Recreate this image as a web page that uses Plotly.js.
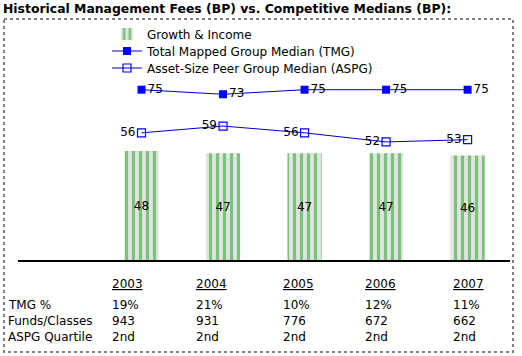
<!DOCTYPE html>
<html>
<head>
<meta charset="utf-8">
<script src="https://cdn.plot.ly/plotly-3.0.1.min.js"></script>
<style>html,body{margin:0;padding:0;background:#fff;}#chart{width:522px;height:356px;}</style>
</head>
<body>
<div id="chart"></div>
<script>
var years = ['2003', '2004', '2005', '2006', '2007'];
var fundFees = [48, 47, 47, 47, 46];
var tmgMedian = [75, 73, 75, 75, 75];
var aspgMedian = [56, 59, 56, 52, 53];
var tmgPct = ['19%', '21%', '10%', '12%', '11%'];
var fundsClasses = ['943', '931', '776', '672', '662'];
var aspgQuartile = ['2nd', '2nd', '2nd', '2nd', '2nd'];
var rowLabels = ['TMG %', 'Funds/Classes', 'ASPG Quartile'];
var seriesNames = ['Growth & Income', 'Total Mapped Group Median (TMG)', 'Asset-Size Peer Group Median (ASPG)'];
var chartTitle = 'Historical Management Fees (BP) vs. Competitive Medians (BP):';

var W = 522, H = 356;
var PL = 18, PR = 510, PT = 20, PB = 260;
function px(x) { return (x - PL) / (PR - PL); }
function py(y) { return (PB - y) / (PB - PT); }
var FONT = 'DejaVu Sans, Verdana, sans-serif';

var traces = [
  {
    type: 'bar', x: years, y: fundFees, name: seriesNames[0], legend: 'legend',
    width: 0.42,
    marker: {color: '#e6e6e6', line: {width: 0},
      pattern: {shape: '|', fgcolor: '#2fb02f', fgopacity: 0.6, bgcolor: '#e2e2e2', size: 7, solidity: 0.45}},
    text: fundFees.map(String), textposition: 'inside', insidetextanchor: 'middle',
    textfont: {family: FONT, size: 12, color: '#000'}, hoverinfo: 'skip'
  },
  {
    type: 'scatter', mode: 'lines+markers+text', x: years, y: tmgMedian, name: seriesNames[1], legend: 'legend2',
    line: {color: '#0000c8', width: 1},
    marker: {symbol: 'square', size: 8, color: '#0000ff'},
    text: tmgMedian.map(String), textposition: 'middle right',
    textfont: {family: FONT, size: 12, color: '#000'}
  },
  {
    type: 'scatter', mode: 'lines+markers+text', x: years, y: aspgMedian, name: seriesNames[2], legend: 'legend3',
    line: {color: '#0000c8', width: 1},
    marker: {symbol: 'square-open', size: 8, color: '#0000ff', line: {width: 1.2}},
    text: aspgMedian.map(String), textposition: 'middle left',
    textfont: {family: FONT, size: 12, color: '#000'}
  }
];

var annotations = [];
var colX = [110, 194, 281, 363, 451];
var rowY = {year: 284, r0: 305, r1: 321, r2: 337};
years.forEach(function (yr, i) {
  annotations.push({xref: 'paper', yref: 'paper', x: px(colX[i]), y: py(rowY.year), xanchor: 'left', yanchor: 'middle',
    text: '<u>' + yr + '</u>', showarrow: false, font: {family: FONT, size: 12, color: '#000'}});
  [tmgPct, fundsClasses, aspgQuartile].forEach(function (arr, r) {
    annotations.push({xref: 'paper', yref: 'paper', x: px(colX[i]), y: py(rowY['r' + r]), xanchor: 'left', yanchor: 'middle',
      text: arr[i], showarrow: false, font: {family: FONT, size: 12, color: '#000'}});
  });
});
rowLabels.forEach(function (lab, r) {
  annotations.push({xref: 'paper', yref: 'paper', x: px(6), y: py(rowY['r' + r]), xanchor: 'left', yanchor: 'middle',
    text: lab, showarrow: false, font: {family: FONT, size: 12, color: '#000'}});
});

function legendAt(yCenter) {
  return {x: px(107), y: py(yCenter), xanchor: 'left', yanchor: 'middle', bgcolor: 'rgba(0,0,0,0)',
    borderwidth: 0, font: {family: FONT, size: 12, color: '#000'}};
}

var layout = {
  width: W, height: H,
  margin: {l: PL, r: W - PR, t: PT, b: H - PB, pad: 0},
  paper_bgcolor: '#fff', plot_bgcolor: 'rgba(0,0,0,0)',
  title: {text: '<b>' + chartTitle + '</b>', x: 3 / W, xanchor: 'left', xref: 'container', y: 1 - 9 / H, yanchor: 'middle', yref: 'container',
    font: {family: FONT, size: 12.4, color: '#000'}},
  showlegend: true,
  legend: legendAt(34),
  legend2: legendAt(51),
  legend3: legendAt(68),
  xaxis: {type: 'category', range: [-1.515, 4.52], showgrid: false, zeroline: false, showticklabels: false,
    ticks: '', showline: true, linecolor: '#000', linewidth: 1.5, fixedrange: true},
  yaxis: {range: [0, 105.7], visible: false, fixedrange: true},
  shapes: [
    {type: 'rect', xref: 'paper', yref: 'paper', x0: px(4), x1: px(513), y0: py(19), y1: py(352),
      line: {color: '#808080', width: 2, dash: 'dot'}, fillcolor: 'rgba(0,0,0,0)', layer: 'below'}
  ],
  annotations: annotations
};

Plotly.newPlot('chart', traces, layout, {displayModeBar: false, staticPlot: true});
</script>
</body>
</html>
